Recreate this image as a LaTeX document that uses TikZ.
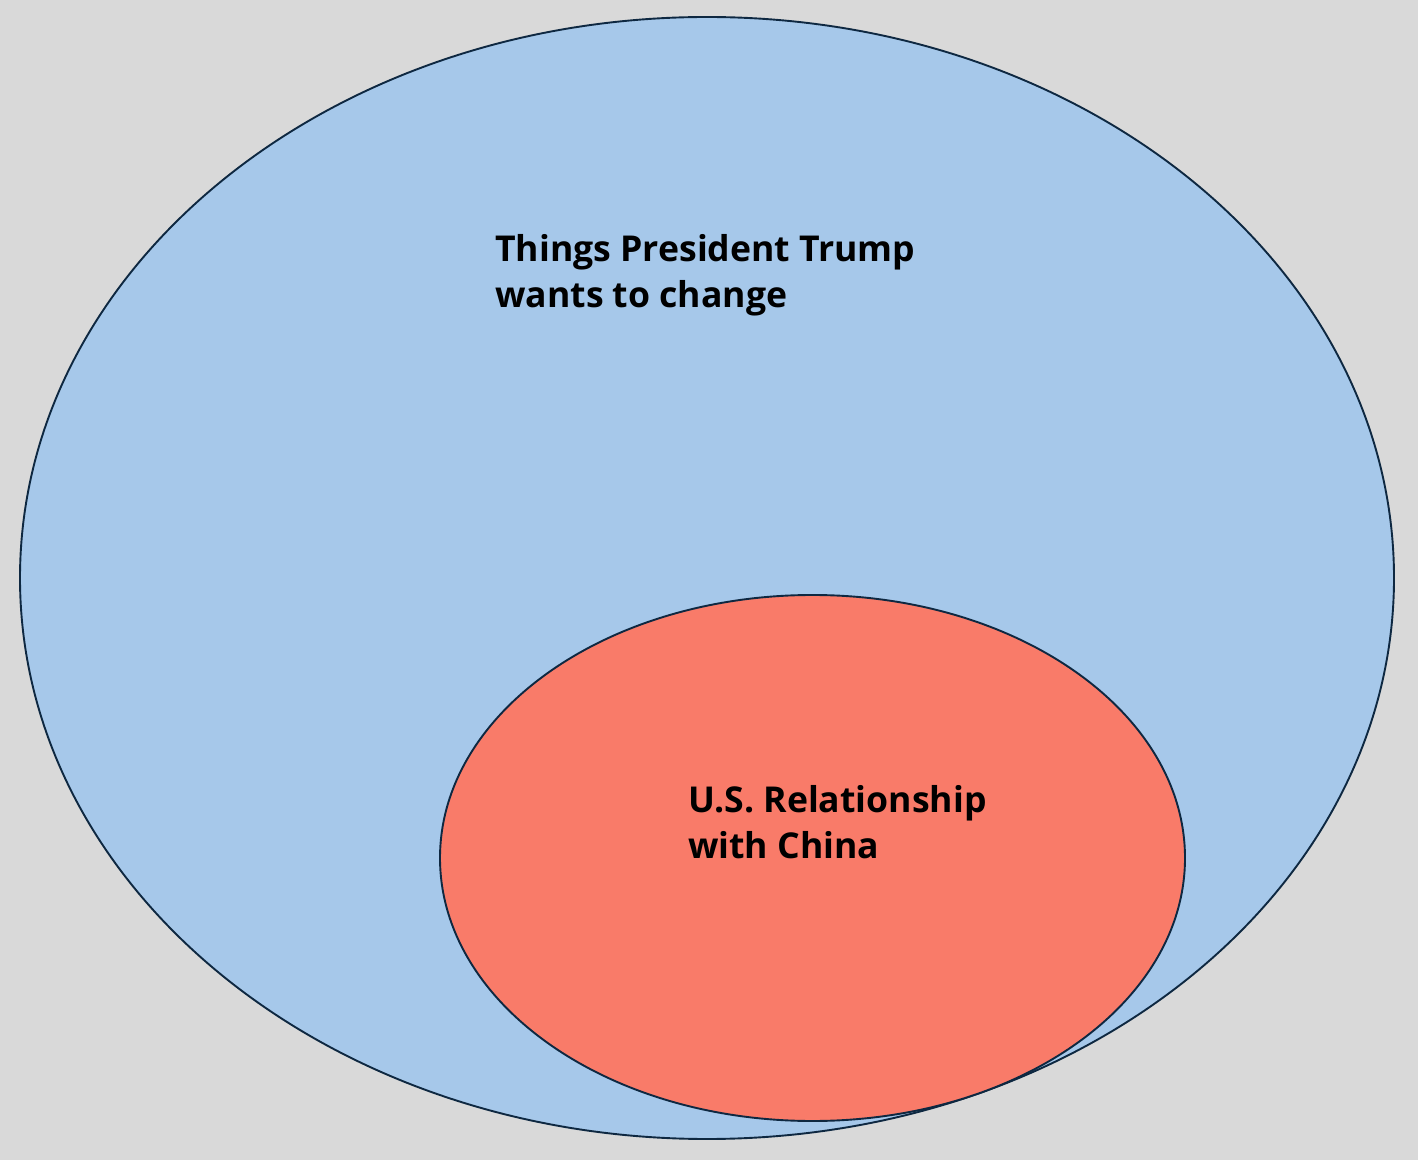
\documentclass[tikz,border=0pt]{standalone}
\usepackage{fontspec}
\setmainfont{Open Sans}
\usetikzlibrary{shapes.geometric}
\definecolor{bgcol}{HTML}{D9D9D9}
\definecolor{bluefill}{HTML}{A6C8EA}
\definecolor{redfill}{HTML}{F97B69}
\definecolor{edgecol}{HTML}{0E2841}
\tikzset{
  blob/.style={ellipse, draw=edgecol, line width=1.9pt, inner sep=0pt},
  lbl/.style={anchor=base west, align=left, inner sep=0pt, text=black,
    font=\fontsize{35.6}{46}\selectfont\bfseries}
}
\begin{document}
\begin{tikzpicture}[x=1pt,y=1pt]
\fill[bgcol] (0,0) rectangle (1418,1160);
\useasboundingbox (0,0) rectangle (1418,1160);
\node[blob, fill=bluefill, minimum width=1374pt, minimum height=1122pt] (outer) at (707,582) {};
\node[blob, fill=redfill, minimum width=745pt, minimum height=526pt] (inner) at (812.5,302) {};
\node[lbl] (t1) at (495,852) {Things President Trump\\wants to change};
\node[lbl] (t2) at (688,302) {U.S. Relationship\\with China};
\end{tikzpicture}
\end{document}
